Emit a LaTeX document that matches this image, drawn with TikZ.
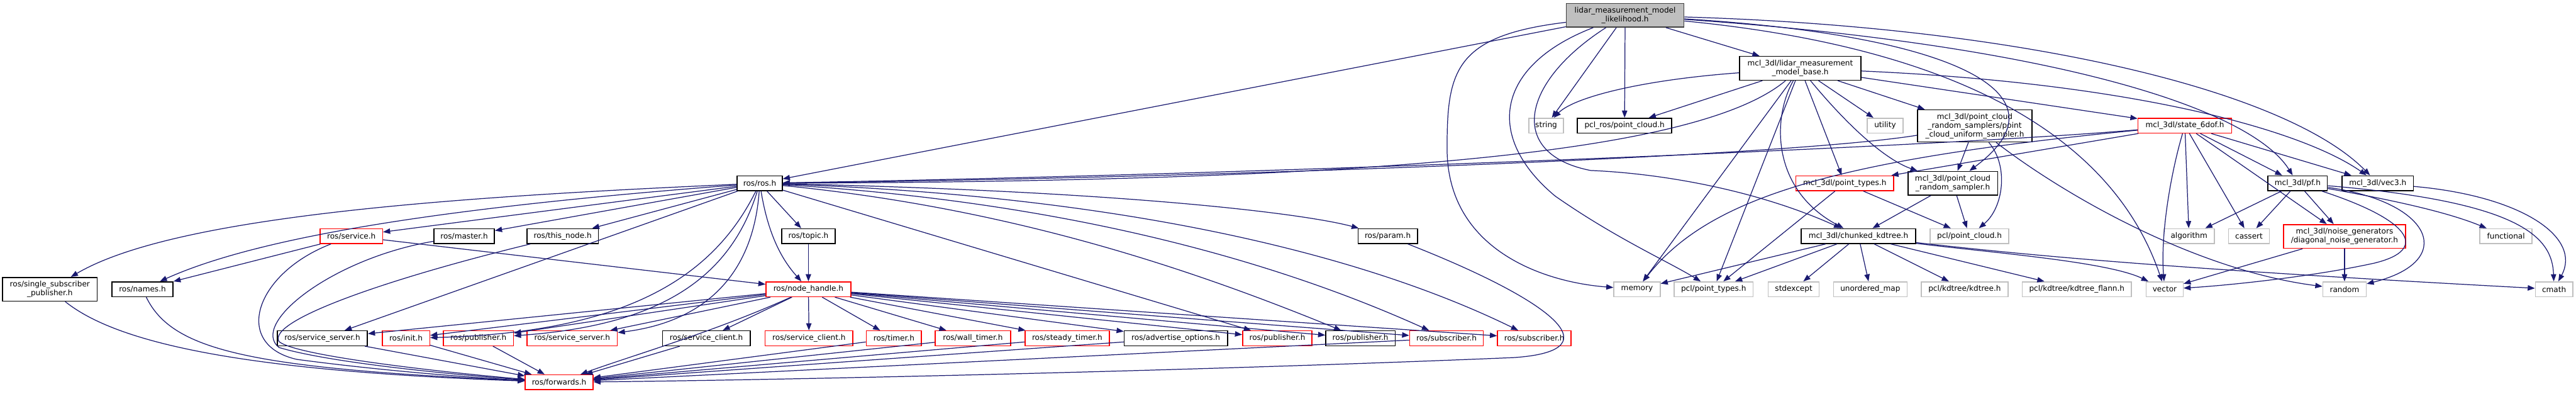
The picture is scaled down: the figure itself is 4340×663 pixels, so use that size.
\documentclass[tikz,border=0pt]{standalone}
\usepackage{fontspec}
\setmainfont{DejaVu Sans}
\usetikzlibrary{arrows.meta}
\definecolor{edgeblue}{HTML}{191970}
\definecolor{trunc}{HTML}{FF0000}
\definecolor{sysgrey}{HTML}{BFBFBF}
\definecolor{mainfill}{HTML}{BFBFBF}
\definecolor{mainline}{HTML}{404040}
\tikzset{
  box/.style={draw=black, fill=white, align=center, inner sep=0pt,
              line width=1.6pt, minimum height=25pt,
              font=\fontsize{12.8}{15}\selectfont},
  docbox/.style={box},
  truncbox/.style={box, draw=trunc},
  sysbox/.style={box, draw=sysgrey},
  mainbox/.style={box, fill=mainfill, draw=mainline},
  ar/.style={-{Triangle[length=12pt,width=9pt]}, line width=1.3pt, draw=edgeblue}
}
\begin{document}
\begin{tikzpicture}[x=1pt,y=1pt]
  \useasboundingbox[fill=white] (0,0) rectangle (4340,-663);

  % top rows
  \node[mainbox, minimum width=198pt, minimum height=40pt] (lik) at (2738,-25.7) {lidar\_measurement\_model\\\_likelihood.h};
  \node[docbox, minimum width=205pt, minimum height=40pt] (base) at (3033,-115) {mcl\_3dl/lidar\_measurement\\\_model\_base.h};

  \node[sysbox, minimum width=58pt] (str) at (2605,-211.5) {string};
  \node[docbox, minimum width=159pt] (pclros) at (2737,-211.5) {pcl\_ros/point\_cloud.h};
  \node[sysbox, minimum width=60pt] (util) at (3176,-211.5) {utility};
  \node[docbox, minimum width=193pt, minimum height=54pt] (unif) at (3327,-212) {mcl\_3dl/point\_cloud\\\_random\_samplers/point\\\_cloud\_uniform\_sampler.h};
  \node[truncbox, minimum width=158pt] (state) at (3681,-211.5) {mcl\_3dl/state\_6dof.h};

  \node[docbox, minimum width=76pt] (ros) at (1280,-308.5) {ros/ros.h};
  \node[truncbox, minimum width=165pt] (mpt) at (3108,-308.5) {mcl\_3dl/point\_types.h};
  \node[docbox, minimum width=151pt, minimum height=40pt] (rsamp) at (3290,-308.5) {mcl\_3dl/point\_cloud\\\_random\_sampler.h};
  \node[docbox, minimum width=100pt] (pf) at (3871,-308.5) {mcl\_3dl/pf.h};
  \node[docbox, minimum width=120pt] (vec) at (4006,-308.5) {mcl\_3dl/vec3.h};

  % middle row
  \node[truncbox, minimum width=105pt] (service) at (592,-397.5) {ros/service.h};
  \node[docbox, minimum width=102pt] (master) at (782,-397.5) {ros/master.h};
  \node[docbox, minimum width=120pt] (thisnode) at (948,-397.5) {ros/this\_node.h};
  \node[docbox, minimum width=90pt] (topic) at (1362,-397.5) {ros/topic.h};
  \node[docbox, minimum width=100pt] (param) at (2338,-397.5) {ros/param.h};
  \node[docbox, minimum width=193pt] (kdtree) at (3131,-397.5) {mcl\_3dl/chunked\_kdtree.h};
  \node[sysbox, minimum width=132pt] (pclpc) at (3318,-397.5) {pcl/point\_cloud.h};
  \node[sysbox, minimum width=85pt] (algo) at (3688,-397.5) {algorithm};
  \node[sysbox, minimum width=69pt] (cass) at (3789,-397.5) {cassert};
  \node[truncbox, minimum width=206pt, minimum height=40pt] (noise) at (3950,-398) {mcl\_3dl/noise\_generators\\/diagonal\_noise\_generator.h};
  \node[sysbox, minimum width=88pt] (func) at (4222,-397.5) {functional};

  \node[docbox, minimum width=159pt, minimum height=40pt] (single) at (84,-487) {ros/single\_subscriber\\\_publisher.h};
  \node[docbox, minimum width=103pt] (names) at (240,-487) {ros/names.h};
  \node[truncbox, minimum width=143pt] (nh) at (1362,-487) {ros/node\_handle.h};
  \node[sysbox, minimum width=78pt] (mem) at (2758,-487) {memory};
  \node[sysbox, minimum width=133pt] (pclpt) at (2887,-487) {pcl/point\_types.h};
  \node[sysbox, minimum width=86pt] (stdex) at (3022,-487) {stdexcept};
  \node[sysbox, minimum width=124pt] (umap) at (3151,-487) {unordered\_map};
  \node[sysbox, minimum width=146pt] (kdt) at (3310,-487) {pcl/kdtree/kdtree.h};
  \node[sysbox, minimum width=184pt] (flann) at (3499,-487) {pcl/kdtree/kdtree\_flann.h};
  \node[sysbox, minimum width=62pt] (vect) at (3647,-487) {vector};
  \node[sysbox, minimum width=73pt] (rand) at (3950,-487) {random};
  \node[sysbox, minimum width=63pt] (cmath) at (4303,-487) {cmath};

  % bottom rows
  \node[docbox, minimum width=152pt] (ssrv) at (543,-569.5) {ros/service\_server.h};
  \node[truncbox, minimum width=80pt] (init) at (684,-569.5) {ros/init.h};
  \node[truncbox, minimum width=118pt] (pub1) at (806,-569.5) {ros/publisher.h};
  \node[truncbox, minimum width=152pt] (ssrv2) at (964,-569.5) {ros/service\_server.h};
  \node[docbox, minimum width=148pt] (scli) at (1190,-569.5) {ros/service\_client.h};
  \node[truncbox, minimum width=148pt] (scli2) at (1363,-569.5) {ros/service\_client.h};
  \node[truncbox, minimum width=93pt] (timer) at (1506,-569.5) {ros/timer.h};
  \node[truncbox, minimum width=127pt] (wtimer) at (1639,-569.5) {ros/wall\_timer.h};
  \node[truncbox, minimum width=142pt] (stimer) at (1798,-569.5) {ros/steady\_timer.h};
  \node[docbox, minimum width=174pt] (adv) at (1981,-569.5) {ros/advertise\_options.h};
  \node[truncbox, minimum width=117pt] (pub2) at (2152,-569.5) {ros/publisher.h};
  \node[docbox, minimum width=117pt] (pub3) at (2292,-569.5) {ros/publisher.h};
  \node[truncbox, minimum width=124pt] (sub1) at (2437,-569.5) {ros/subscriber.h};
  \node[truncbox, minimum width=124pt] (sub2) at (2585,-569.5) {ros/subscriber.h};
  \node[truncbox, minimum width=114pt] (fwd) at (942,-643.5) {ros/forwards.h};

  % likelihood
  \draw[ar] (lik) -- (ros);
  \draw[ar] (lik) .. controls (2450,-60) and (2438,-120) .. (2438,-250) .. controls (2438,-420) and (2600,-475) .. (mem);
  \draw[ar] (lik) .. controls (2520,-110) and (2500,-230) .. (2620,-330) .. controls (2720,-400) and (2810,-440) .. (pclpt);
  \draw[ar] (lik) .. controls (2560,-140) and (2540,-260) .. (2680,-287) .. controls (2800,-292) and (2960,-320) .. (kdtree);
  \draw[ar] (lik) -- (str);
  \draw[ar] (lik) -- (pclros);
  \draw[ar] (lik) -- (base);
  \draw[ar] (lik) .. controls (3400,-45) and (3850,-150) .. (vec);
  \draw[ar] (lik) .. controls (3450,-75) and (3790,-180) .. (pf);
  \draw[ar] (lik) .. controls (3300,-60) and (3490,-160) .. (rsamp);
  \draw[ar] (lik) .. controls (3350,-85) and (3570,-260) .. (vect);

  % lidar_measurement_model_base
  \draw[ar] (base) .. controls (2760,-135) and (2650,-165) .. (str);
  \draw[ar] (base) -- (pclros);
  \draw[ar] (base) .. controls (2860,-260) and (2300,-305) .. (ros);
  \draw[ar] (base) -- (mem);
  \draw[ar] (base) -- (pclpt);
  \draw[ar] (base) .. controls (2985,-200) and (2985,-320) .. (kdtree);
  \draw[ar] (base) -- (mpt);
  \draw[ar] (base) .. controls (3120,-220) and (3180,-270) .. (rsamp);
  \draw[ar] (base) -- (util);
  \draw[ar] (base) -- (unif);
  \draw[ar] (base) -- (state);
  \draw[ar] (base) .. controls (3600,-140) and (3880,-220) .. (vec);

  \draw[ar] (unif) .. controls (3000,-265) and (2000,-300) .. (ros);
  \draw[ar] (unif) -- (rsamp);
  \draw[ar] (unif) .. controls (3385,-280) and (3375,-350) .. (pclpc);
  \draw[ar] (unif) .. controls (3480,-330) and (3700,-455) .. (rand);

  \draw[ar] (state) .. controls (3300,-245) and (2200,-292) .. (ros);
  \draw[ar] (state) -- (mpt);
  \draw[ar] (state) .. controls (3100,-268) and (2880,-330) .. (mem);
  \draw[ar] (state) .. controls (3655,-300) and (3640,-400) .. (vect);
  \draw[ar] (state) -- (algo);
  \draw[ar] (state) -- (cass);
  \draw[ar] (state) -- (noise);
  \draw[ar] (state) -- (pf);
  \draw[ar] (state) -- (vec);

  \draw[ar] (mpt) -- (pclpt);
  \draw[ar] (mpt) -- (pclpc);
  \draw[ar] (rsamp) -- (kdtree);
  \draw[ar] (rsamp) -- (pclpc);

  % chunked kdtree
  \draw[ar] (kdtree) -- (mem);
  \draw[ar] (kdtree) -- (pclpt);
  \draw[ar] (kdtree) -- (stdex);
  \draw[ar] (kdtree) -- (umap);
  \draw[ar] (kdtree) -- (kdt);
  \draw[ar] (kdtree) -- (flann);
  \draw[ar] (kdtree) .. controls (3350,-425) and (3550,-440) .. (vect);
  \draw[ar] (kdtree) .. controls (3420,-430) and (3650,-452) .. (cmath);

  % pf, vec3, noise generator
  \draw[ar] (pf) -- (algo);
  \draw[ar] (pf) -- (cass);
  \draw[ar] (pf) -- (noise);
  \draw[ar] (pf) .. controls (4060,-370) and (4095,-420) .. (4000,-443) .. controls (3900,-465) and (3760,-480) .. (vect);
  \draw[ar] (pf) .. controls (4100,-340) and (4140,-440) .. (rand);
  \draw[ar] (pf) .. controls (4050,-340) and (4130,-360) .. (func);
  \draw[ar] (pf) .. controls (4250,-340) and (4300,-400) .. (cmath);
  \draw[ar] (vec) .. controls (4250,-330) and (4350,-400) .. (cmath);
  \draw[ar] (noise) -- (vect);
  \draw[ar] (noise) -- (rand);

  % ros/ros.h
  \draw[ar] (ros) .. controls (800,-330) and (300,-360) .. (single);
  \draw[ar] (ros) .. controls (800,-345) and (450,-392) .. (names);
  \draw[ar] (ros) -- (service);
  \draw[ar] (ros) -- (master);
  \draw[ar] (ros) -- (thisnode);
  \draw[ar] (ros) -- (ssrv);
  \draw[ar] (ros) .. controls (1200,-470) and (1050,-560) .. (init);
  \draw[ar] (ros) .. controls (1230,-470) and (1110,-548) .. (pub1);
  \draw[ar] (ros) .. controls (1270,-450) and (1200,-540) .. (ssrv2);
  \draw[ar] (ros) .. controls (1295,-400) and (1320,-440) .. (nh);
  \draw[ar] (ros) -- (topic);
  \draw[ar] (ros) .. controls (1900,-322) and (2200,-360) .. (param);
  \draw[ar] (ros) -- (pub2);
  \draw[ar] (ros) .. controls (1700,-350) and (2000,-450) .. (pub3);
  \draw[ar] (ros) .. controls (1800,-340) and (2150,-440) .. (sub1);
  \draw[ar] (ros) .. controls (1900,-330) and (2300,-430) .. (sub2);

  \draw[ar] (service) -- (names);
  \draw[ar] (service) -- (nh);
  \draw[ar] (service) .. controls (430,-460) and (390,-580) .. (500,-605) .. controls (650,-625) and (800,-636) .. (fwd);
  \draw[ar] (master) .. controls (560,-435) and (420,-545) .. (470,-585) .. controls (560,-612) and (780,-632) .. (fwd);
  \draw[ar] (thisnode) .. controls (650,-470) and (450,-540) .. (470,-575) .. controls (500,-600) and (760,-628) .. (fwd);
  \draw[ar] (topic) -- (nh);
  \draw[ar] (param) .. controls (2600,-500) and (2730,-590) .. (2550,-602) .. controls (2000,-625) and (1300,-640) .. (fwd);
  \draw[ar] (single) .. controls (200,-580) and (420,-625) .. (fwd);
  \draw[ar] (names) .. controls (290,-590) and (420,-620) .. (fwd);

  % ros/node_handle.h
  \draw[ar] (nh) -- (ssrv);
  \draw[ar] (nh) -- (init);
  \draw[ar] (nh) -- (pub1);
  \draw[ar] (nh) -- (ssrv2);
  \draw[ar] (nh) -- (scli);
  \draw[ar] (nh) -- (scli2);
  \draw[ar] (nh) -- (timer);
  \draw[ar] (nh) -- (wtimer);
  \draw[ar] (nh) -- (stimer);
  \draw[ar] (nh) -- (adv);
  \draw[ar] (nh) -- (pub2);
  \draw[ar] (nh) -- (pub3);
  \draw[ar] (nh) -- (sub1);
  \draw[ar] (nh) -- (sub2);
  \draw[ar] (nh) .. controls (1200,-560) and (1060,-600) .. (fwd);

  \draw[ar] (ssrv) -- (fwd);
  \draw[ar] (init) -- (fwd);
  \draw[ar] (pub1) -- (fwd);
  \draw[ar] (scli) -- (fwd);
  \draw[ar] (timer) -- (fwd);
  \draw[ar] (wtimer) -- (fwd);
  \draw[ar] (stimer) -- (fwd);
  \draw[ar] (adv) -- (fwd);
  \draw[ar] (sub1) -- (fwd);
\end{tikzpicture}
\end{document}
